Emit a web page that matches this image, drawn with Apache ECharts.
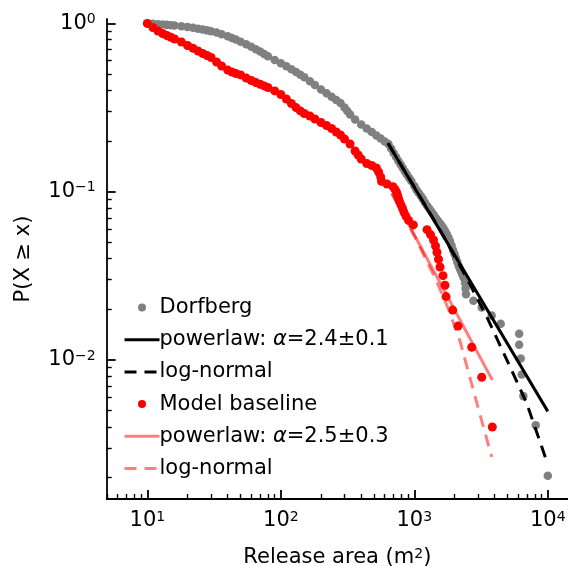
<!DOCTYPE html>
<html><head><meta charset="utf-8">
<script src="https://cdn.jsdelivr.net/npm/echarts@6/dist/echarts.min.js"></script>
<style>html,body{margin:0;padding:0;background:#fff}#c{width:568px;height:566px}</style>
</head><body><div id="c"></div>
<script>
// ---------- data ----------
const dorfbergArea = [10,11,12,13,14,15,16,18,20,22,24,26,28,30,33,36,40,43,46,50,55,60,65,70,75,80,90,100,110,120,130,140,150,165,180,200,220,240,260,280,300,315,330,360,400,440,480,520,560,600,
  640,670,700,730,760,790,820,850,880,915,950,1000,1040,1080,1120,1160,1200,1250,1300,1350,1400,1450,1500,1550,1600,1650,1700,1750,1800,1850,1900,1950,2000,2050,2100,2150,2200,2250,2300,2350,2400,2420,2440,
  2770,3200,3800,4440,6100,6100,6270,6380,6560,8120,10000];
const dorfbergP = [1.0,0.9945,0.989,0.984,0.980,0.976,0.972,0.962,0.952,0.942,0.930,0.920,0.909,0.899,0.882,0.863,0.838,0.820,0.802,0.778,0.751,0.726,0.703,0.680,0.658,0.637,0.606,0.579,0.556,0.534,0.514,0.495,0.478,0.453,0.431,0.405,0.384,0.366,0.351,0.337,0.316,0.302,0.2875,0.2685,0.2507,0.2373,0.2262,0.2157,0.2071,0.1987,
  0.1920,0.1806,0.1698,0.1610,0.1522,0.1449,0.1383,0.1320,0.1265,0.1206,0.1158,0.1081,0.1023,0.0982,0.0943,0.0905,0.0862,0.0822,0.0789,0.0757,0.0727,0.0698,0.0674,0.0652,0.0630,0.0609,0.0584,0.0561,0.0534,0.0509,0.0479,0.0450,0.0426,0.0404,0.0382,0.0362,0.0347,0.0333,0.0320,0.0307,0.0287,0.0266,0.0246,
  0.0225,0.0205,0.0184,0.0164,0.0143,0.0123,0.0102,0.0082,0.0061,0.0041,0.00205];

const modelArea = [10,11,12,13,14,15,16,18,20,22,24,26,28,30,33,36,40,43,46,50,55,60,65,70,75,80,90,100,110,120,130,140,150,165,180,200,220,240,260,280,300,330,360,380,400,440,480,520,540,560,
  568,624,692,717,736,749,761,775,795,816,837,867,905,983,1245,1322,1393,1442,1479,1518,1558,1641,1698,1728,1940,2125,2692,3198,3840];
const modelP = [1.0,0.945,0.901,0.871,0.847,0.827,0.808,0.775,0.739,0.711,0.685,0.662,0.645,0.627,0.590,0.558,0.528,0.514,0.504,0.494,0.474,0.458,0.445,0.435,0.425,0.416,0.397,0.378,0.3555,0.334,0.316,0.302,0.2915,0.2817,0.2704,0.2577,0.2473,0.2373,0.2262,0.2172,0.2056,0.1920,0.1745,0.1652,0.1564,0.1471,0.1431,0.1383,0.1309,0.1223,
  0.1151,0.1111,0.1071,0.1032,0.0992,0.0952,0.0913,0.0873,0.0833,0.0794,0.0754,0.0714,0.0675,0.0635,0.0595,0.0556,0.0516,0.0476,0.0437,0.0397,0.0357,0.0317,0.0278,0.0238,0.0198,0.0159,0.0119,0.0079,0.0040];

const dorfbergPowerlawArea = [635, 10000];
const dorfbergPowerlawP = [0.194, 0.00495];
const dorfbergLognormArea = [635, 995, 1558, 2398, 3486, 5211, 6950, 10000];
const dorfbergLognormP = [0.1939, 0.1074, 0.0592, 0.0320, 0.0181, 0.00912, 0.00553, 0.0024];
const modelPowerlawArea = [680, 3840];
const modelPowerlawP = [0.098, 0.0076];
const modelLognormArea = [678, 1012, 1430, 1788, 2199, 2766, 3288, 3800];
const modelLognormP = [0.0978, 0.0538, 0.0307, 0.0204, 0.01297, 0.00663, 0.00402, 0.00266];

const seriesNames = ['Dorfberg', 'powerlaw: α=2.4±0.1', 'log-normal', 'Model baseline', 'powerlaw: α=2.5±0.3', 'log-normal '];

const xMajorTicks = [10, 100, 1000, 10000];
const xMinorTicks = [5,6,7,8,9,20,30,40,50,60,70,80,90,200,300,400,500,600,700,800,900,2000,3000,4000,5000,6000,7000,8000,9000];
const yMajorTicks = [0.01, 0.1, 1];
const yMinorTicks = [0.002,0.003,0.004,0.005,0.006,0.007,0.008,0.009,0.02,0.03,0.04,0.05,0.06,0.07,0.08,0.09,0.2,0.3,0.4,0.5,0.6,0.7,0.8,0.9];

const xLimits = [4.96, 14170];
const yLimits = [0.001493, 1.062];

// ---------- chart ----------
const FONT = 'DejaVu Sans';
const zip = (a, b) => a.map((v, i) => [v, b[i]]);
const supLabel = v => {
  const e = Math.round(Math.log10(v));
  return '{b|10}{s|' + (e < 0 ? '\u2212' + (-e) : String(e)) + '}';
};
const richTick = {
  b: { fontFamily: FONT, fontSize: 21, lineHeight: 22, color: '#000' },
  s: { fontFamily: FONT, fontSize: 14, lineHeight: 12, verticalAlign: 'top', color: '#000' }
};
const majorAxis = (ticks, extra) => Object.assign({
  type: 'log', logBase: 10,
  axisLine: { show: true, lineStyle: { color: '#000', width: 1.8 } },
  axisTick: { show: true, inside: true, length: 9, lineStyle: { color: '#000', width: 1.8 }, customValues: ticks },
  axisLabel: { show: true, customValues: ticks, formatter: supLabel, rich: richTick },
  splitLine: { show: false }, minorTick: { show: false }, minorSplitLine: { show: false }
}, extra);
const minorAxis = (ticks, extra) => Object.assign({
  type: 'log', logBase: 10,
  axisLine: { show: false },
  axisTick: { show: true, inside: true, length: 5, lineStyle: { color: '#000', width: 1.4 }, customValues: ticks },
  axisLabel: { show: false },
  splitLine: { show: false }, minorTick: { show: false }
}, extra);

const chart = echarts.init(document.getElementById('c'), null, { renderer: 'canvas' });
chart.setOption({
  animation: false,
  backgroundColor: '#fff',
  grid: { left: 106.7, top: 19, width: 461.3, height: 480, containLabel: false, outerBoundsMode: 'none' },
  xAxis: [
    majorAxis(xMajorTicks, {
      min: xLimits[0], max: xLimits[1], position: 'bottom',
      axisLabel: { show: true, customValues: xMajorTicks, formatter: supLabel, rich: richTick, margin: 11 },
      name: 'Release area (m{sup|2})', nameLocation: 'middle', nameGap: 48,
      nameTextStyle: { fontFamily: FONT, fontSize: 21, color: '#000', lineHeight: 22,
        rich: { sup: { fontFamily: FONT, fontSize: 14, lineHeight: 12, verticalAlign: 'top', color: '#000' } } }
    }),
    minorAxis(xMinorTicks, { min: xLimits[0], max: xLimits[1], position: 'bottom' })
  ],
  yAxis: [
    majorAxis(yMajorTicks, {
      min: yLimits[0], max: yLimits[1], position: 'left',
      axisLabel: { show: true, customValues: yMajorTicks, formatter: supLabel, rich: richTick, margin: 11 },
      name: 'P(X \u2265 x)', nameLocation: 'middle', nameGap: 73, nameRotate: 90,
      nameTextStyle: { fontFamily: FONT, fontSize: 21, color: '#000' }
    }),
    minorAxis(yMinorTicks, { min: yLimits[0], max: yLimits[1], position: 'left' })
  ],
  legend: {
    orient: 'vertical', left: 123, top: 295.5, padding: 0,
    itemWidth: 35, itemHeight: 8, itemGap: 8.2,
    textStyle: { fontFamily: FONT, fontSize: 21, color: '#000', lineHeight: 24, padding: [0, 0, 0, -5],
      rich: { i: { fontFamily: FONT, fontSize: 21, fontStyle: 'italic', lineHeight: 24, color: '#000' } } },
    formatter: n => n.replace('α', '{i|α}'),
    lineStyle: { width: 3 },
    data: seriesNames.map((n, i) => (i === 0 || i === 3) ? { name: n } : { name: n, itemStyle: { opacity: 0 } })
  },
  series: [
    { name: seriesNames[0], type: 'scatter', data: zip(dorfbergArea, dorfbergP), symbol: 'circle', symbolSize: 8.5,
      itemStyle: { color: '#808080', opacity: 1 }, silent: true },
    { name: seriesNames[1], type: 'line', data: zip(dorfbergPowerlawArea, dorfbergPowerlawP), symbol: 'none', showSymbol: false,
      lineStyle: { color: '#000', width: 3 }, itemStyle: { color: '#000' }, silent: true },
    { name: seriesNames[2], type: 'line', data: zip(dorfbergLognormArea, dorfbergLognormP), symbol: 'none', showSymbol: false,
      lineStyle: { color: '#000', width: 3, type: [12, 8] }, itemStyle: { color: '#000' }, silent: true },
    { name: seriesNames[3], type: 'scatter', data: zip(modelArea, modelP), symbol: 'circle', symbolSize: 9,
      itemStyle: { color: '#ff0000', opacity: 1 }, silent: true },
    { name: seriesNames[4], type: 'line', data: zip(modelPowerlawArea, modelPowerlawP), symbol: 'none', showSymbol: false,
      lineStyle: { color: '#ff0000', opacity: 0.5, width: 3 }, itemStyle: { color: '#ff0000' }, silent: true },
    { name: seriesNames[5], type: 'line', data: zip(modelLognormArea, modelLognormP), symbol: 'none', showSymbol: false,
      lineStyle: { color: '#ff0000', opacity: 0.5, width: 3, type: [12, 8] }, itemStyle: { color: '#ff0000' }, silent: true }
  ]
});
</script></body></html>
